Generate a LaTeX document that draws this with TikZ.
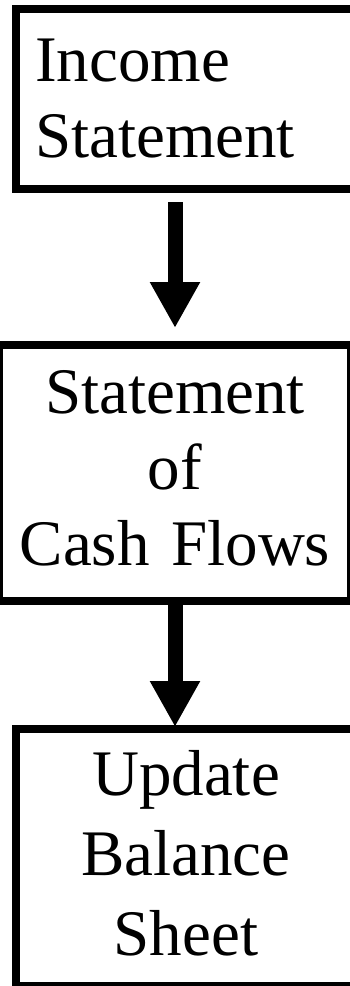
\documentclass[tikz,border=0pt]{standalone}
\usepackage{fontspec}
\setmainfont{Liberation Serif}
\usetikzlibrary{arrows.meta,calc}
\tikzset{
  boxnode/.style={draw=black, line width=8pt, fill=white, inner sep=0pt, font=\fontsize{65}{76}\selectfont},
  flowarrow/.style={line width=15pt, -{Triangle[width=47pt,length=46pt]}}
}
\begin{document}
\begin{tikzpicture}[x=1pt,y=-1pt]
\useasboundingbox (0,0) rectangle (350,986);
\clip (0,0) rectangle (350,986);
\fill[white] (0,0) rectangle (350,986);
\node[boxnode, minimum width=338pt, minimum height=180pt, text width=300pt, align=left] (b1) at (185,99) {Income\\Statement};
\node[boxnode, minimum width=352pt, minimum height=256pt, text width=330pt, align=center, text depth=162pt] (b2) at (175,473) {Statement\\of\\Cash Flows};
\node[boxnode, minimum width=340pt, minimum height=257pt, text width=320pt, align=center, text depth=170pt, font=\fontsize{65}{80}\selectfont] (b3) at (186,857.5) {Update\\Balance\\Sheet};
\coordinate (a1s) at ($(b1.south -| b2.north)+(0,9)$);
\coordinate (a1e) at ($(b2.north)+(0,-13)$);
\coordinate (a2e) at ($(b3.north -| b2.south)+(0,2)$);
\draw[flowarrow] (a1s) -- (a1e);
\draw[flowarrow] (b2.south) -- (a2e);
\end{tikzpicture}
\end{document}
